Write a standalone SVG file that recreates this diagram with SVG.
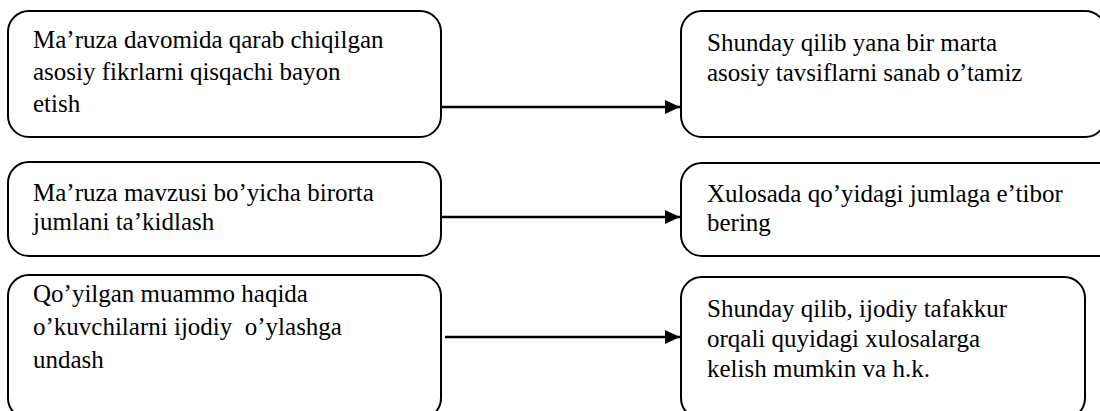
<svg xmlns="http://www.w3.org/2000/svg" width="1100" height="411" viewBox="0 0 1100 411" font-family="Liberation Serif, Times New Roman, DejaVu Serif, serif">
<defs>
<marker id="ah" markerWidth="16" markerHeight="14" refX="15" refY="7" orient="auto" markerUnits="userSpaceOnUse">
<path d="M0,0 L15,7 L0,14 Z" fill="#000"/>
</marker>
</defs>
<rect width="1100" height="411" fill="#fff"/>
<g id="n1">
<rect x="8" y="11" width="433" height="126" rx="21" fill="#fff" stroke="#000" stroke-width="2"/>
<text x="33" y="48" font-family="Times New Roman, Liberation Serif, serif" font-size="25">Ma’ruza davomida qarab chiqilgan</text>
<text x="33" y="80" font-family="Times New Roman, Liberation Serif, serif" font-size="25">asosiy fikrlarni qisqachi bayon</text>
<text x="33" y="112" font-family="Times New Roman, Liberation Serif, serif" font-size="25">etish</text>
</g>
<g id="n2">
<rect x="681" y="11" width="425" height="126" rx="21" fill="#fff" stroke="#000" stroke-width="2"/>
<text x="707" y="51" font-family="Times New Roman, Liberation Serif, serif" font-size="25">Shunday qilib yana bir marta</text>
<text x="707" y="81" font-family="Times New Roman, Liberation Serif, serif" font-size="25">asosiy tavsiflarni sanab o’tamiz</text>
</g>
<g id="n3">
<rect x="8" y="162" width="433" height="94" rx="21" fill="#fff" stroke="#000" stroke-width="2"/>
<text x="33" y="201" font-family="Times New Roman, Liberation Serif, serif" font-size="25">Ma’ruza mavzusi bo’yicha birorta</text>
<text x="33" y="230" font-family="Times New Roman, Liberation Serif, serif" font-size="25">jumlani ta’kidlash</text>
</g>
<g id="n4">
<rect x="681" y="163" width="450" height="93" rx="21" fill="#fff" stroke="#000" stroke-width="2"/>
<text x="707" y="202" font-family="Times New Roman, Liberation Serif, serif" font-size="25">Xulosada qo’yidagi jumlaga e’tibor</text>
<text x="707" y="231" font-family="Times New Roman, Liberation Serif, serif" font-size="25">bering</text>
</g>
<g id="n5">
<rect x="8" y="275" width="433" height="144" rx="21" fill="#fff" stroke="#000" stroke-width="2"/>
<text x="33" y="302" font-family="Times New Roman, Liberation Serif, serif" font-size="25">Qo’yilgan muammo haqida</text>
<text x="33" y="335" font-family="Times New Roman, Liberation Serif, serif" font-size="25" xml:space="preserve">o’kuvchilarni ijodiy  o’ylashga</text>
<text x="33" y="368" font-family="Times New Roman, Liberation Serif, serif" font-size="25">undash</text>
</g>
<g id="n6">
<rect x="681" y="277" width="404" height="142" rx="21" fill="#fff" stroke="#000" stroke-width="2"/>
<text x="707" y="317" font-family="Times New Roman, Liberation Serif, serif" font-size="25">Shunday qilib, ijodiy tafakkur</text>
<text x="707" y="347" font-family="Times New Roman, Liberation Serif, serif" font-size="25">orqali quyidagi xulosalarga</text>
<text x="707" y="377" font-family="Times New Roman, Liberation Serif, serif" font-size="25">kelish mumkin va h.k.</text>
</g>
<g id="connectors" stroke="#000" stroke-width="2.5">
<line x1="441" y1="107" x2="680" y2="107" marker-end="url(#ah)"/>
<line x1="441" y1="217" x2="680" y2="217" marker-end="url(#ah)"/>
<line x1="445" y1="337" x2="680" y2="337" marker-end="url(#ah)"/>
</g>
</svg>
